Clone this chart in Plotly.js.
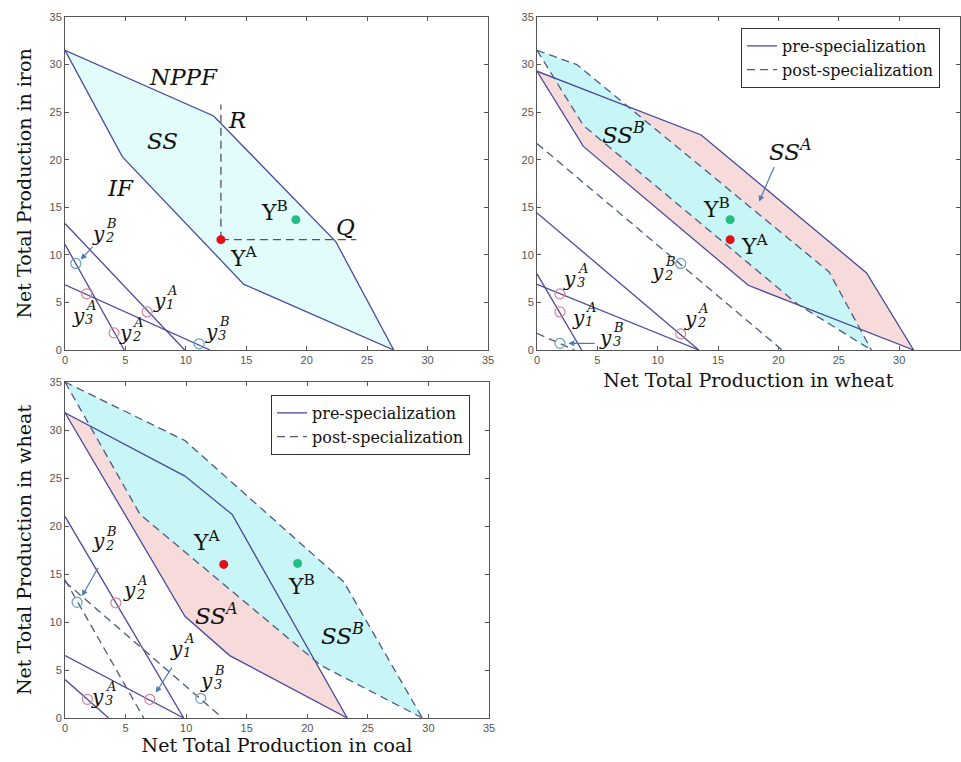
<!DOCTYPE html>
<html>
<head>
<meta charset="utf-8">
<script src="https://cdn.plot.ly/plotly-3.0.1.min.js"></script>
<style>html,body{margin:0;padding:0;background:#fff;}#chart{width:961px;height:762px;}</style>
</head>
<body>
<div id="chart"></div>
<script>
// ---------- Top-left panel (coal vs iron) ----------
const tlNppfX = [0, 12.3, 22.4, 27.2];
const tlNppfY = [31.5, 24.6, 11.4, 0];
const tlIfX = [0, 4.75, 14.8, 27.2];
const tlIfY = [31.5, 20.3, 6.9, 0];
const tlYA = [12.9, 11.6];
const tlYB = [19.1, 13.7];
const tlRTopY = 25.8;
const tlQRightX = 24.1;
const tlLineAX = [0, 9.9],  tlLineAY = [13.3, 0];
const tlLineBX = [0, 4.9],  tlLineBY = [11.1, 0];
const tlLineCX = [0, 12.0], tlLineCY = [6.85, 0];
const tlPtsAX = [6.8, 4.06, 1.8], tlPtsAY = [4.0, 1.8, 5.9];
const tlPtsBX = [0.9, 11.1],     tlPtsBY = [9.1, 0.65];

// ---------- Top-right panel (wheat vs iron) ----------
const trPreOuterX = [0, 13.6, 27.3, 31.2],  trPreOuterY = [29.3, 22.6, 8.1, 0];
const trPreInnerX = [0, 3.84, 17.5, 31.2],  trPreInnerY = [29.3, 21.4, 6.8, 0];
const trPostOuterX = [0, 3.3, 24.2, 27.7],  trPostOuterY = [31.5, 30.0, 8.2, 0];
const trPostInnerX = [0, 3.84, 21.6, 27.7], trPostInnerY = [31.5, 23.6, 4.8, 0];
const trSolidAX = [0, 13.4], trSolidAY = [14.4, 0];
const trSolidBX = [0, 13.4], trSolidBY = [6.9, 0];
const trSolidCX = [0, 3.7],  trSolidCY = [8.0, 0];
const trDashAX = [0, 20.3],  trDashAY = [21.7, 0];
const trDashBX = [0, 3.1],   trDashBY = [1.75, 0];
const trPtsAX = [1.9, 11.9, 1.9], trPtsAY = [4.0, 1.7, 5.9];
const trPtsBX = [11.9, 1.9],      trPtsBY = [9.1, 0.7];
const trYA = [16.0, 11.6];
const trYB = [16.0, 13.7];

// ---------- Bottom panel (coal vs wheat) ----------
const blPreOuterX = [0, 9.9, 13.8, 23.3],  blPreOuterY = [31.8, 25.2, 21.2, 0];
const blPreInnerX = [0, 9.9, 13.6, 23.3],  blPreInnerY = [31.8, 10.6, 6.5, 0];
const blPostOuterX = [0, 9.9, 23.0, 29.5], blPostOuterY = [35, 28.9, 14.2, 0];
const blPostInnerX = [0, 6.2, 21.1, 29.5], blPostInnerY = [35, 21.2, 5.5, 0];
const blSolidAX = [0, 9.8], blSolidAY = [21.0, 0];
const blSolidBX = [0, 9.8], blSolidBY = [6.5, 0];
const blSolidCX = [0, 3.6], blSolidCY = [4.0, 0];
const blDashAX = [0, 6.5],  blDashAY = [14.4, 0];
const blDashBX = [0, 13.0], blDashBY = [14.2, 0];
const blPtsAX = [7.0, 4.2, 1.85], blPtsAY = [1.95, 12.0, 1.95];
const blPtsBX = [1.0, 11.2],      blPtsBY = [12.05, 2.05];
const blYA = [13.1, 16.0];
const blYB = [19.2, 16.1];

const tickVals = [0, 5, 10, 15, 20, 25, 30, 35];
const legendNames = ['pre-specialization', 'post-specialization'];

// ---------- styles ----------
const SOLID = '#4a4a9c';
const DASHC = '#4d5a82';
const GUIDE = '#555555';
const CYAN_LIGHT = '#e2fcfc';
const CYAN = '#c8f6f6';
const PINK = '#f7dada';
const RED = '#e3101c';
const GREEN = '#22c080';
const PT_A = '#d9809c';
const PT_B = '#6a9fc0';
const ARROW = '#4a7db5';
const SERIF = 'DejaVu Serif';
const DASH = '8px,5px';

const traces = [];
function poly(ax, outX, outY, inX, inY, color) {
  traces.push({x: outX.concat(inX.slice().reverse()), y: outY.concat(inY.slice().reverse()),
    xaxis: ax[0], yaxis: ax[1], mode: 'lines', fill: 'toself', fillcolor: color,
    line: {width: 0}, hoverinfo: 'skip', showlegend: false});
}
function line(ax, xs, ys, color, dash, extra) {
  traces.push(Object.assign({x: xs, y: ys, xaxis: ax[0], yaxis: ax[1], mode: 'lines',
    line: {color: color, width: 1.3, dash: dash || 'solid'}, showlegend: false}, extra || {}));
}
function pts(ax, xs, ys, color, open) {
  traces.push({x: xs, y: ys, xaxis: ax[0], yaxis: ax[1], mode: 'markers', showlegend: false,
    marker: open ? {symbol: 'circle-open', size: 10, color: color, line: {width: 1.2, color: color}}
                 : {symbol: 'circle', size: 9, color: color}});
}

const TL = ['x', 'y'], TR = ['x2', 'y2'], BL = ['x3', 'y3'];

// Top-left
poly(TL, tlNppfX, tlNppfY, tlIfX, tlIfY, CYAN_LIGHT);
line(TL, tlNppfX, tlNppfY, SOLID);
line(TL, tlIfX, tlIfY, SOLID);
line(TL, [tlYA[0], tlYA[0]], [tlYA[1], tlRTopY], GUIDE, DASH);
line(TL, [tlYA[0], tlQRightX], [tlYA[1], tlYA[1]], GUIDE, DASH);
line(TL, tlLineAX, tlLineAY, SOLID);
line(TL, tlLineBX, tlLineBY, SOLID);
line(TL, tlLineCX, tlLineCY, SOLID);
pts(TL, tlPtsAX, tlPtsAY, PT_A, true);
pts(TL, tlPtsBX, tlPtsBY, PT_B, true);
pts(TL, [tlYA[0]], [tlYA[1]], RED);
pts(TL, [tlYB[0]], [tlYB[1]], GREEN);

// Top-right
poly(TR, trPreOuterX, trPreOuterY, trPreInnerX, trPreInnerY, PINK);
poly(TR, trPostOuterX, trPostOuterY, trPostInnerX, trPostInnerY, CYAN);
line(TR, trPreOuterX, trPreOuterY, SOLID, null, {name: legendNames[0], showlegend: true, legend: 'legend'});
line(TR, trPostOuterX, trPostOuterY, DASHC, DASH, {name: legendNames[1], showlegend: true, legend: 'legend'});
line(TR, trPreInnerX, trPreInnerY, SOLID);
line(TR, trPostInnerX, trPostInnerY, DASHC, DASH);
line(TR, trSolidAX, trSolidAY, SOLID);
line(TR, trSolidBX, trSolidBY, SOLID);
line(TR, trSolidCX, trSolidCY, SOLID);
line(TR, trDashAX, trDashAY, DASHC, DASH);
line(TR, trDashBX, trDashBY, DASHC, DASH);
pts(TR, trPtsAX, trPtsAY, PT_A, true);
pts(TR, trPtsBX, trPtsBY, PT_B, true);
pts(TR, [trYA[0]], [trYA[1]], RED);
pts(TR, [trYB[0]], [trYB[1]], GREEN);

// Bottom
poly(BL, blPreOuterX, blPreOuterY, blPreInnerX, blPreInnerY, PINK);
poly(BL, blPostOuterX, blPostOuterY, blPostInnerX, blPostInnerY, CYAN);
line(BL, blPreOuterX, blPreOuterY, SOLID, null, {name: legendNames[0], showlegend: true, legend: 'legend2'});
line(BL, blPostOuterX, blPostOuterY, DASHC, DASH, {name: legendNames[1], showlegend: true, legend: 'legend2'});
line(BL, blPreInnerX, blPreInnerY, SOLID);
line(BL, blPostInnerX, blPostInnerY, DASHC, DASH);
line(BL, blSolidAX, blSolidAY, SOLID);
line(BL, blSolidBX, blSolidBY, SOLID);
line(BL, blSolidCX, blSolidCY, SOLID);
line(BL, blDashAX, blDashAY, DASHC, DASH);
line(BL, blDashBX, blDashBY, DASHC, DASH);
pts(BL, blPtsAX, blPtsAY, PT_A, true);
pts(BL, blPtsBX, blPtsBY, PT_B, true);
pts(BL, [blYA[0]], [blYA[1]], RED);
pts(BL, [blYB[0]], [blYB[1]], GREEN);

// ---------- annotations ----------
const ann = [];
function txt(ax, x, y, text, size, italic) {
  ann.push({xref: ax[0], yref: ax[1], x: x, y: y, text: text, showarrow: false,
    font: {family: SERIF, size: size || 23, color: '#111', style: italic ? 'italic' : 'normal'}});
}
function ylab(ax, x, y, sup, sub) {
  const f = (s) => ({family: SERIF, size: s, color: '#111', style: 'italic'});
  ann.push({xref: ax[0], yref: ax[1], x: x, y: y, text: 'y', showarrow: false, font: f(20)});
  ann.push({xref: ax[0], yref: ax[1], x: x, y: y, text: sup, showarrow: false, font: f(13), xshift: 13, yshift: 10});
  ann.push({xref: ax[0], yref: ax[1], x: x, y: y, text: sub, showarrow: false, font: f(13), xshift: 11, yshift: -4});
}
function arrow(ax, tx, ty, hx, hy) {
  ann.push({xref: ax[0], yref: ax[1], axref: ax[0], ayref: ax[1], x: hx, y: hy, ax: tx, ay: ty,
    text: '', showarrow: true, arrowhead: 2, arrowsize: 1, arrowwidth: 1.2, arrowcolor: ARROW});
}
// top-left labels
txt(TL, 9.8, 28.7, 'NPPF', 23, true);
txt(TL, 8.1, 22.0, 'SS', 23, true);
txt(TL, 4.6, 17.0, 'IF', 23, true);
txt(TL, 14.2, 24.2, 'R', 23, true);
txt(TL, 23.2, 12.9, 'Q', 23, true);
txt(TL, 17.3, 14.6, 'Y<sup>B</sup>', 22);
txt(TL, 14.8, 9.8, 'Y<sup>A</sup>', 22);
ylab(TL, 2.8, 12.2, 'B', '2');
ylab(TL, 7.8, 5.2, 'A', '1');
ylab(TL, 1.1, 3.6, 'A', '3');
ylab(TL, 5.0, 1.8, 'A', '2');
ylab(TL, 12.1, 1.9, 'B', '3');
arrow(TL, 2.4, 11.0, 1.3, 9.5);
// top-right labels
txt(TR, 7.2, 22.8, '<i>SS</i><sup><i>B</i></sup>', 23);
txt(TR, 21.0, 21.0, '<i>SS</i><sup><i>A</i></sup>', 23);
txt(TR, 14.9, 14.9, 'Y<sup>B</sup>', 22);
txt(TR, 18.1, 11.0, 'Y<sup>A</sup>', 22);
arrow(TR, 19.7, 19.4, 18.4, 15.6);
ylab(TR, 2.7, 7.5, 'A', '3');
ylab(TR, 3.4, 3.4, 'A', '1');
ylab(TR, 10.0, 8.2, 'B', '2');
ylab(TR, 12.7, 3.3, 'A', '2');
ylab(TR, 5.7, 1.3, 'B', '3');
arrow(TR, 4.9, 0.7, 2.6, 0.7);
// bottom labels
txt(BL, 11.7, 18.4, 'Y<sup>A</sup>', 22);
txt(BL, 19.5, 13.9, 'Y<sup>B</sup>', 22);
txt(BL, 12.5, 10.8, '<i>SS</i><sup><i>A</i></sup>', 23);
txt(BL, 22.9, 8.7, '<i>SS</i><sup><i>B</i></sup>', 23);
ylab(BL, 2.8, 18.4, 'B', '2');
ylab(BL, 5.3, 13.3, 'A', '2');
ylab(BL, 9.2, 7.2, 'A', '1');
ylab(BL, 2.7, 2.2, 'A', '3');
ylab(BL, 11.7, 3.9, 'B', '3');
arrow(BL, 2.8, 15.8, 1.4, 12.7);
arrow(BL, 8.9, 5.4, 7.5, 2.65);

// ---------- axes ----------
const W = 961, H = 762;
function axis(p0, p1, horiz, title, standoff) {
  const a = {range: [0, 35], tickvals: tickVals, ticks: 'inside', ticklen: 4, tickcolor: '#555',
    showline: true, linecolor: '#555', linewidth: 1, mirror: 'ticks', showgrid: false, zeroline: false,
    tickfont: {family: 'Liberation Sans', size: 11, color: '#555'}, fixedrange: true,
    domain: horiz ? [p0 / W, p1 / W] : [(H - p1) / H, (H - p0) / H]};
  if (title) a.title = {text: title, font: {family: SERIF, size: 19, color: '#111'}, standoff: standoff};
  return a;
}

const layout = {
  width: W, height: H, margin: {l: 0, r: 0, t: 0, b: 0},
  paper_bgcolor: '#fff', plot_bgcolor: '#fff',
  xaxis: Object.assign(axis(65, 488, true), {anchor: 'y'}),
  yaxis: Object.assign(axis(17, 350, false, 'Net Total Production in iron', 12), {anchor: 'x'}),
  xaxis2: Object.assign(axis(537, 959.5, true, 'Net Total Production in wheat', 8), {anchor: 'y2'}),
  yaxis2: Object.assign(axis(17, 350, false), {anchor: 'x2'}),
  xaxis3: Object.assign(axis(65, 489, true, 'Net Total Production in coal', 5), {anchor: 'y3'}),
  yaxis3: Object.assign(axis(382, 718, false, 'Net Total Production in wheat', 12), {anchor: 'x3'}),
  legend: {x: 741 / W, y: (H - 28) / H, xanchor: 'left', yanchor: 'top', bgcolor: '#fff',
    bordercolor: '#333', borderwidth: 1, font: {family: SERIF, size: 16, color: '#111'}, tracegroupgap: 0},
  legend2: {x: 271 / W, y: (H - 395) / H, xanchor: 'left', yanchor: 'top', bgcolor: '#fff',
    bordercolor: '#333', borderwidth: 1, font: {family: SERIF, size: 16, color: '#111'}, tracegroupgap: 0},
  annotations: ann,
  showlegend: true
};

Plotly.newPlot('chart', traces, layout, {displayModeBar: false, staticPlot: true});
</script>
</body>
</html>
